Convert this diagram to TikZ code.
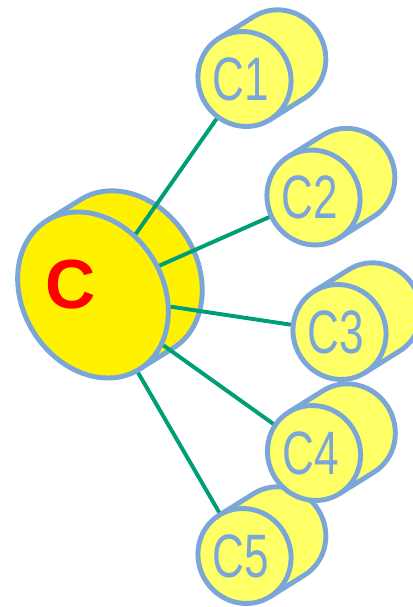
\documentclass[tikz,border=0pt]{standalone}
\usepackage{graphicx}
\usepackage{fontspec}
\usepackage{tikz}
\usetikzlibrary{shapes.geometric}
\newfontfamily\labelfont{Liberation Sans}
\definecolor{rim}{RGB}{122,166,216}
\definecolor{lemon}{RGB}{255,255,102}
\definecolor{linkgreen}{RGB}{0,158,118}

\begin{document}
\begin{tikzpicture}[
  x=0.025cm, y=0.025cm,
  cylbody/.style={draw=rim, line width=3.5pt},
  face/.style={ellipse, draw=rim, line width=3.5pt, inner sep=0pt, rotate=32},
  bigface/.style={face, fill=yellow, minimum width=3.5cm, minimum height=4.375cm},
  smallface/.style={face, fill=lemon, minimum width=2.3cm, minimum height=2.4cm},
  bigtxt/.style={inner sep=0pt, text=red, font=\labelfont\bfseries\fontsize{49.5}{50}\selectfont},
  smalltxt/.style={inner sep=0pt, text=rim, font=\labelfont\fontsize{43.6}{44}\selectfont},
  link/.style={draw=linkgreen, line width=2.8pt}
]
\useasboundingbox (0,0) rectangle (413,607);

% central cylinder
\begin{scope}[shift={(93,312)}, rotate=32]
  \filldraw[cylbody, fill=yellow] (0,87.5) -- (40,87.5)
    arc[start angle=90, end angle=-90, x radius=70, y radius=87.5] -- (0,-87.5);
\end{scope}
\node[bigface] (C) at (93,312) {};
\node[bigtxt] (tC) at (70.5,322) {C};

% outer cylinders, lowest first
\foreach \n/\x/\y in {5/244.5/51, 4/314/154, 3/339.5/275, 2/313.5/409.5, 1/244.5/528} {
  \begin{scope}[shift={(\x,\y)}, rotate=32]
    \filldraw[cylbody, fill=lemon] (0,48) -- (41,48)
      arc[start angle=90, end angle=-90, x radius=46, y radius=48] -- (0,-48);
  \end{scope}
  \node[smallface] (c\n) at (\x,\y) {};
  \node[smalltxt] (t\n) at (\x-3.5,\y) {\scalebox{0.72}[1]{C\n}};
}

\foreach \n in {1,...,5}
  \draw[link] (C) -- (c\n);
\end{tikzpicture}
\end{document}
